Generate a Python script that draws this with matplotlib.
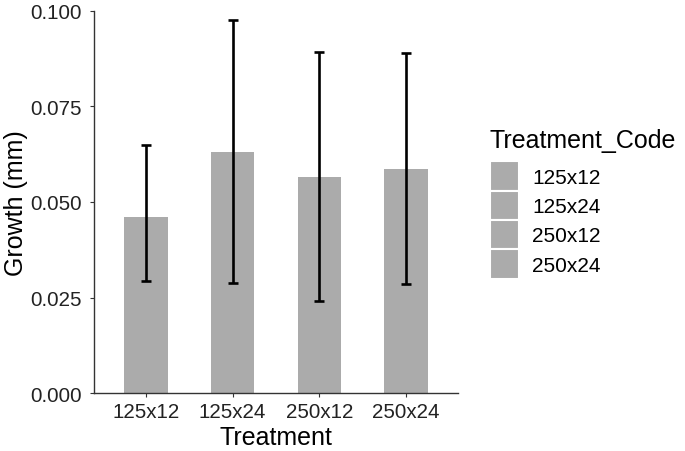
import matplotlib
matplotlib.use("Agg")
import matplotlib.pyplot as plt
from matplotlib.patches import Patch

plt.rcParams['font.family'] = ['Liberation Sans', 'DejaVu Sans']

treatments = ["125x12", "125x24", "250x12", "250x24"]
growth = [0.0461, 0.0632, 0.0566, 0.0587]
err_low = [0.0293, 0.0288, 0.0240, 0.0285]
err_high = [0.0649, 0.0977, 0.0892, 0.0891]
yticks = [0.000, 0.025, 0.050, 0.075, 0.100]
ytick_labels = ["0.000", "0.025", "0.050", "0.075", "0.100"]

bar_color = "#ABABAB"

fig = plt.figure(figsize=(6.85, 4.52), dpi=100)
ax = fig.add_axes([0.1372, 0.1283, 0.5314, 0.8452])

x = list(range(1, len(treatments) + 1))
ax.bar(x, growth, width=0.5, color=bar_color, zorder=1)
lower = [g - l for g, l in zip(growth, err_low)]
upper = [h - g for g, h in zip(growth, err_high)]
ax.errorbar(x, growth, yerr=[lower, upper], fmt='none', ecolor='black',
            elinewidth=1.9, capsize=3.6, capthick=1.9, zorder=2)

ax.set_xlim(0.4, 4.6)
ax.set_ylim(0, 0.1)
ax.set_xticks(x)
ax.set_xticklabels(treatments)
ax.set_yticks(yticks)
ax.set_yticklabels(ytick_labels)
ax.tick_params(axis='both', labelsize=14.8, colors='#333333', length=3, width=0.8)
ax.tick_params(axis='x', pad=3.5)
ax.tick_params(axis='y', pad=5.5)
for lbl in ax.get_xticklabels() + ax.get_yticklabels():
    lbl.set_color('#222222')
ax.spines['top'].set_visible(False)
ax.spines['right'].set_visible(False)
ax.spines['left'].set_linewidth(1.0)
ax.spines['bottom'].set_linewidth(1.0)
ax.spines['left'].set_color('#333333')
ax.spines['bottom'].set_color('#333333')
ax.set_xlabel("Treatment", fontsize=18, labelpad=2.5)
ax.set_ylabel("Growth (mm)", fontsize=18, labelpad=1.5)

handles = [Patch(facecolor=bar_color, edgecolor='white', linewidth=1.5) for _ in treatments]
leg = fig.legend(handles, treatments, title="Treatment_Code", loc='upper left',
                 bbox_to_anchor=(0.715, 0.714), frameon=False, fontsize=15,
                 title_fontsize=18, handlelength=1.4, handleheight=1.79,
                 labelspacing=0.0, handletextpad=0.63, borderaxespad=0,
                 borderpad=0)
leg._legend_box.align = "left"
leg._legend_box.sep = 6.5

fig.savefig("out.png", dpi=100)
